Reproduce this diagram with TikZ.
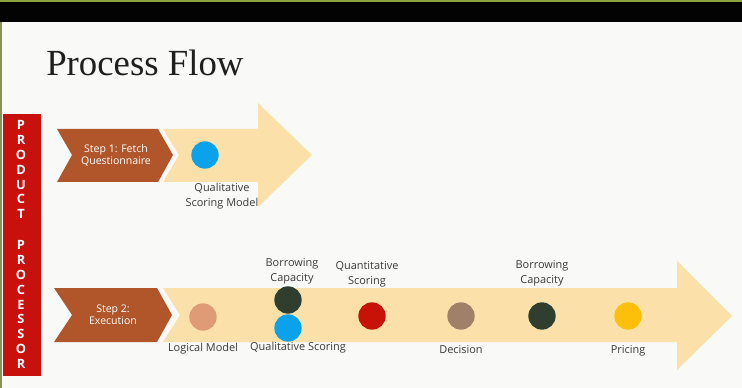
\documentclass[tikz,border=0pt]{standalone}
\usepackage{fontspec}
\setmainfont{Liberation Serif}
\setsansfont{Open Sans}
\usetikzlibrary{positioning}
\definecolor{slidebg}{HTML}{F9F9F7}
\definecolor{topbar}{HTML}{030303}
\definecolor{trimgreen}{HTML}{8CA23F}
\definecolor{procred}{HTML}{C8100C}
\definecolor{stepbrown}{HTML}{B1562A}
\definecolor{flowsand}{HTML}{FBE1A9}
\definecolor{dotblue}{HTML}{0AA2EA}
\definecolor{dottan}{HTML}{DE9B76}
\definecolor{dotgreen}{HTML}{2F3E2F}
\definecolor{dotred}{HTML}{C81208}
\definecolor{dotmocha}{HTML}{A08068}
\definecolor{dotgold}{HTML}{FDC00A}
\definecolor{labelgray}{HTML}{3A3A3A}
\tikzset{
  % Milestone dots on the flow arrows
  dot/.style={
    circle, minimum size=20.5pt, inner sep=0pt, fill=#1,
  },
  dot/.default={dotblue},
  % Texts under / over the dots
  dotlabel/.style={
    font=\sffamily\fontsize{8.2}{11.5}\selectfont, text=labelgray,
    align=center, inner sep=0pt,
  },
  % Texts inside the step chevrons
  steptext/.style={
    font=\sffamily\fontsize{7.9}{9}\selectfont, text=white,
    align=center, inner sep=0pt,
  },
  % Letters of the vertical side bar
  barletter/.style={
    font=\sffamily\bfseries\fontsize{9.6}{10}\selectfont, text=white,
    inner sep=0pt,
  },
}

\begin{document}
\begin{tikzpicture}[x=0.75pt, y=-0.75pt]
  % Slide frame
  \fill[slidebg] (0,0) rectangle (742,388);
  \useasboundingbox (0,0) rectangle (742,388);
  \fill[trimgreen] (0,0) rectangle (742,2);
  \fill[topbar] (0,2) rectangle (742,22);
  \fill[trimgreen!60!gray] (0,22) rectangle (1.5,388);

  % Title
  \node[anchor=base west, inner sep=0pt, text=black!88,
        font=\fontsize{27.6}{30}\selectfont] (title) at (46,76) {Process Flow};

  % Side bar
  \fill[procred] (3,114) rectangle (41,376);
  \foreach \ltr [count=\i] in {P,R,O,D,U,C,T}
    \node[barletter] (prod-\i) at (21,110+14.9*\i) {\ltr};
  \foreach \ltr [count=\i] in {P,R,O,C,E,S,S,O,R}
    \node[barletter] (proc-\i) at (21,230+14.9*\i) {\ltr};

  % Step 1
  \fill[flowsand] (163,129) -- (258,129) -- (258,103) -- (312,155)
    -- (258,207) -- (258,182) -- (163,182) -- (179,155) -- cycle;
  \fill[stepbrown] (57,129) -- (158,129) -- (173,155) -- (158,182)
    -- (57,182) -- (72,155) -- cycle;
  \node[steptext] (step1) at (116,155) {Step 1: Fetch\\Questionnaire};
  \node[dot=dotblue] (qsm) at (205,155) {};
  \node[dotlabel] (qsm-lbl) at (222,196) {Qualitative\\Scoring Model};

  % Step 2
  \fill[flowsand] (163,288) -- (677,288) -- (677,261) -- (732,316)
    -- (677,370) -- (677,342) -- (163,342) -- (180,315) -- cycle;
  \fill[stepbrown] (54,288) -- (157,288) -- (172,315) -- (157,342)
    -- (54,342) -- (72,315) -- cycle;
  \node[steptext] (step2) at (113,315) {Step 2:\\Execution};

  \node[dot=dottan] (logic) at (203,317) {};
  \node[dotlabel] (logic-lbl) at (203,349) {Logical Model};

  \node[dot=dotgreen] (borrow1) at (288,300) {};
  \node[dotlabel] (borrow1-lbl) at (292,271) {Borrowing\\Capacity};
  \node[dot=dotblue] (qual) at (288,328) {};
  \node[dotlabel] (qual-lbl) at (298,348) {Qualitative Scoring};

  \node[dot=dotred] (quant) at (372,316) {};
  \node[dotlabel] (quant-lbl) at (367,274) {Quantitative\\Scoring};

  \node[dot=dotmocha] (decide) at (461,316) {};
  \node[dotlabel] (decide-lbl) at (461,350) {Decision};

  \node[dot=dotgreen] (borrow2) at (542,316) {};
  \node[dotlabel] (borrow2-lbl) at (542,273) {Borrowing\\Capacity};

  \node[dot=dotgold] (price) at (628,316) {};
  \node[dotlabel] (price-lbl) at (628,351) {Pricing};
\end{tikzpicture}
\end{document}
